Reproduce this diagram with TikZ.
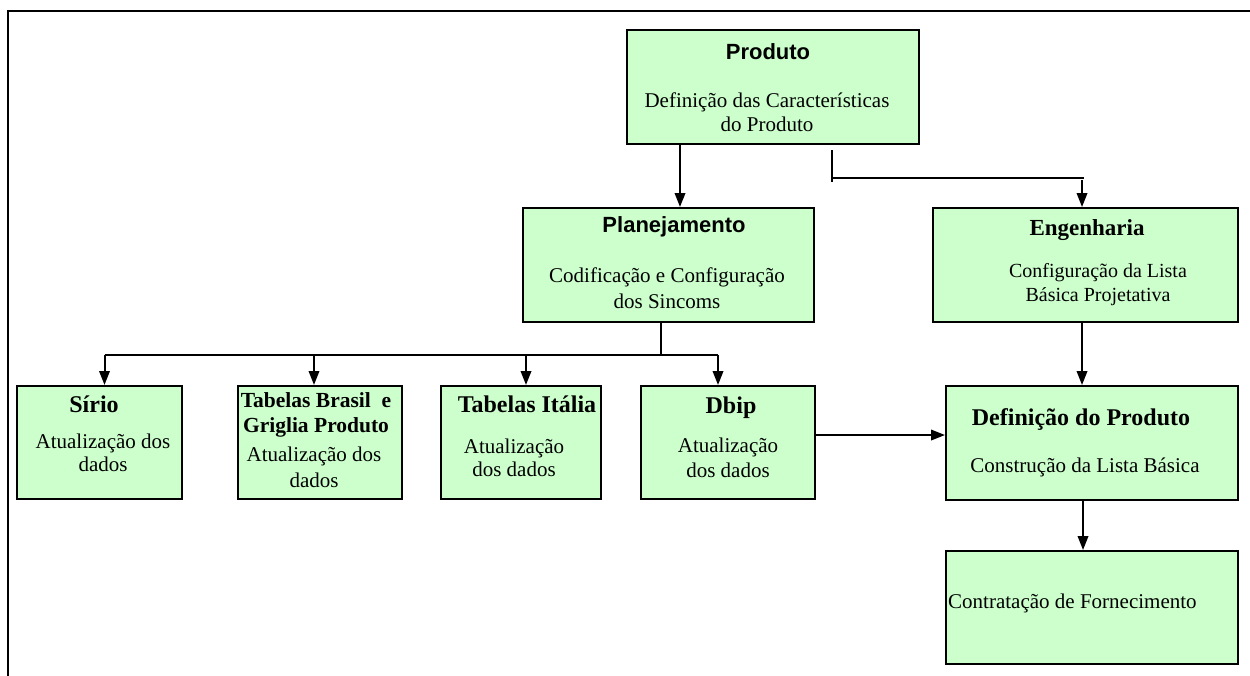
\documentclass[tikz,border=0pt]{standalone}
\usepackage{fontspec}
\setmainfont{Liberation Serif}
\newfontfamily\arialfont{Liberation Sans}
\usetikzlibrary{arrows.meta}
\definecolor{boxgreen}{HTML}{CCFFCC}
\tikzset{
  x=1pt, y=-1pt,
  box/.style={draw=black, line width=2pt, fill=boxgreen, inner sep=0pt},
  conn/.style={draw=black, line width=2pt},
  arr/.style={conn, -{Triangle[length=14pt,width=10.5pt]}},
  ttl/.style={font=\fontsize{24}{26}\selectfont\bfseries, align=center, inner sep=0pt},
  ttlsans/.style={font=\fontsize{22}{24}\selectfont\arialfont\bfseries, align=center, inner sep=0pt},
  body/.style={font=\fontsize{21}{24}\selectfont, align=center, inner sep=0pt},
}
\begin{document}
\begin{tikzpicture}
\useasboundingbox (0,0) rectangle (1250,675);
% outer frame, running off the right and bottom edges
\draw[line width=2.5pt] (8,680) -- (8,11) -- (1255,11);

% boxes
\path (627,30) -- (919,144) node[midway, box, minimum width=292pt, minimum height=114pt] (produto) {};
\path (523,208) -- (814,322) node[midway, box, minimum width=291pt, minimum height=114pt] (planej) {};
\path (933,208) -- (1238,322) node[midway, box, minimum width=305pt, minimum height=114pt] (engen) {};
\path (17,386) -- (182,499) node[midway, box, minimum width=165pt, minimum height=113pt] (sirio) {};
\path (238,386) -- (402,499) node[midway, box, minimum width=164pt, minimum height=113pt] (brasil) {};
\path (441,386) -- (601,499) node[midway, box, minimum width=160pt, minimum height=113pt] (italia) {};
\path (641,386) -- (815,499) node[midway, box, minimum width=174pt, minimum height=113pt] (dbip) {};
\path (946,386) -- (1238,500) node[midway, box, minimum width=292pt, minimum height=114pt] (defin) {};
\path (946,551) -- (1238,664) node[midway, box, minimum width=292pt, minimum height=113pt] (contrat) {};

% texts
\node[ttlsans] (produtoT) at (768,52) {Produto};
\node[body] (produtoB) at (767,112) {Definição das Características\\do Produto};
\node[ttlsans] (planejT) at (674,227) {Planejamento};
\node[body, font=\fontsize{21}{26}\selectfont] (planejB) at (667,288) {Codificação e Configuração\\dos Sincoms};
\node[ttl, font=\fontsize{23}{25}\selectfont\bfseries] (engenT) at (1087,230) {Engenharia};
\node[body, font=\fontsize{20}{24}\selectfont] (engenB) at (1098,285) {Configuração da Lista\\Básica Projetativa};
\node[ttl] (sirioT) at (94,404) {Sírio};
\node[body, font=\fontsize{21}{23}\selectfont] (sirioB) at (103,453) {Atualização dos\\dados};
\node[ttl, font=\fontsize{21.5}{25}\selectfont\bfseries] (brasilT) at (316,415) {Tabelas Brasil\ \ e\\Griglia Produto};
\node[body, font=\fontsize{21}{26}\selectfont] (brasilB) at (314,467) {Atualização dos\\dados};
\node[ttl] (italiaT) at (527,404) {Tabelas Itália};
\node[body, font=\fontsize{21}{23}\selectfont] (italiaB) at (514,458) {Atualização\\dos dados};
\node[ttl] (dbipT) at (731,408) {Dbip};
\node[body, font=\fontsize{21}{25}\selectfont] (dbipB) at (728,458) {Atualização\\dos dados};
\node[ttl] (definT) at (1081,420) {Definição do Produto};
\node[body] (definB) at (1085,467) {Construção da Lista Básica};
\node[body, anchor=west] (contratB) at (948,603) {Contratação de Fornecimento};

% Produto -> Planejamento
\coordinate (pDrop) at ([xshift=-93pt]produto.south);
\draw[arr] (pDrop) -- (pDrop |- planej.north);
% Produto -> Engenharia (detached tick and elbow)
\coordinate (tickTop) at ([xshift=59pt,yshift=-5pt]produto.south);
\coordinate (fork) at ([yshift=-28pt]tickTop);
\coordinate (eIn) at ([xshift=-3.5pt]engen.north);
\coordinate (eEnd) at ([xshift=-2pt]engen.north);
\draw[conn] (tickTop) -- ([yshift=-32pt]tickTop);
\draw[conn] (fork) -- (fork -| eEnd);
\draw[arr] ([yshift=27pt]eIn) -- (eIn);

% Planejamento -> row of data boxes
\coordinate (stem) at ([xshift=-7.5pt]planej.south);
\coordinate (bus) at ([yshift=-32pt]stem);
\coordinate (inS) at ([xshift=5pt]sirio.north);
\coordinate (inB) at ([xshift=-6pt]brasil.north);
\coordinate (inI) at ([xshift=5pt]italia.north);
\coordinate (inD) at ([xshift=-10pt]dbip.north);
\draw[conn] (stem) -- (bus);
\draw[conn] (bus -| inS) -- (bus -| inD);
\draw[arr] (bus -| inS) -- (inS);
\draw[arr] (bus -| inB) -- (inB);
\draw[arr] (bus -| inI) -- (inI);
\draw[arr] (bus -| inD) -- (inD);

% Dbip -> Definição do Produto
\coordinate (lvl) at (0,435);
\draw[arr] (dbip.east |- lvl) -- (defin.west |- lvl);
% Engenharia -> Definição do Produto
\coordinate (eOut) at ([xshift=-3.5pt]engen.south);
\draw[arr] (eOut) -- (eOut |- defin.north);
% Definição do Produto -> Contratação
\coordinate (dOut) at ([xshift=-9pt]defin.south);
\draw[arr] (dOut) -- (dOut |- contrat.north);
\end{tikzpicture}
\end{document}
